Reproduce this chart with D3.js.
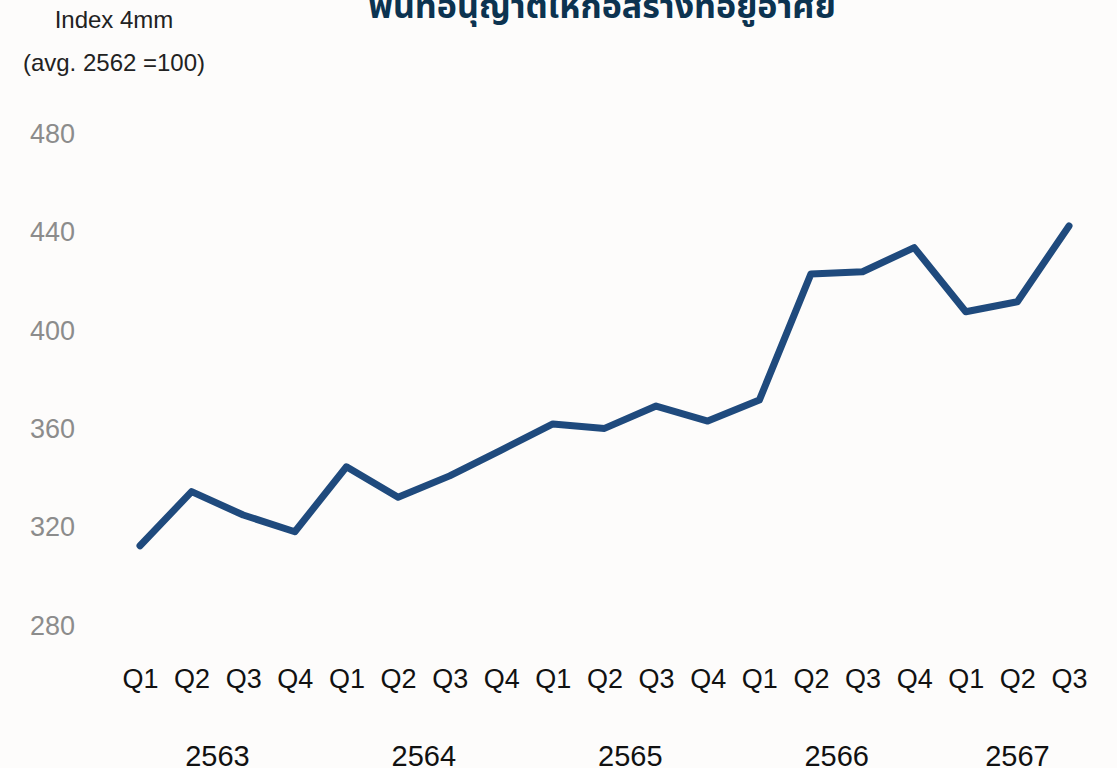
<!DOCTYPE html>
<html>
<head>
<meta charset="utf-8">
<script src="https://cdn.jsdelivr.net/npm/d3@7"></script>
<style>
  html, body { margin: 0; padding: 0; background: #fdfcfb; }
  svg { display: block; }
  text { font-family: "Liberation Sans", Arial, sans-serif; }
</style>
</head>
<body>
<svg id="chart" width="1117" height="768"></svg>
<script>
// data
var quarters = ["Q1", "Q2", "Q3", "Q4", "Q1", "Q2", "Q3", "Q4", "Q1", "Q2", "Q3", "Q4",
                "Q1", "Q2", "Q3", "Q4", "Q1", "Q2", "Q3"];
var years = ["2563", "2564", "2565", "2566", "2567"];
var yearSpan = [4, 4, 4, 4, 3];
var values = [312.5, 334.5, 325, 318.2, 344.6, 332.2, 340.9, 351.4, 362, 360.2, 369.3, 363.2,
              371.7, 423, 423.9, 433.7, 407.6, 411.7, 442.5];
var yTicks = [280, 320, 360, 400, 440, 480];

var svg = d3.select("#chart");

var x = d3.scalePoint()
  .domain(d3.range(values.length))
  .range([140, 1069]);

var y = d3.scaleLinear()
  .domain([280, 480])
  .range([625.7, 133.7]);

// title (top is cut off in the original)
svg.append("text")
  .attr("x", 602)
  .attr("y", 18)
  .attr("text-anchor", "middle")
  .attr("fill", "#0c3350")
  .style("font-family", "'Noto Sans Thai', 'Noto Sans', 'DejaVu Sans', sans-serif")
  .style("font-weight", "bold")
  .style("font-size", "34px")
  .text("พื้นที่อนุญาตให้ก่อสร้างที่อยู่อาศัย");

// y axis title
svg.append("text")
  .attr("x", 114).attr("y", 28)
  .attr("text-anchor", "middle")
  .attr("fill", "#222")
  .style("font-size", "24px")
  .text("Index 4mm");
svg.append("text")
  .attr("x", 114).attr("y", 71)
  .attr("text-anchor", "middle")
  .attr("fill", "#222")
  .style("font-size", "24px")
  .text("(avg. 2562 =100)");

// y axis, labels only
var yAxis = svg.append("g")
  .attr("transform", "translate(81,0)")
  .call(d3.axisLeft(y).tickValues(yTicks).tickSize(0).tickPadding(6));
yAxis.select(".domain").remove();
yAxis.selectAll("text")
  .attr("fill", "#8c8c8c")
  .style("font-family", "'Liberation Sans', Arial, sans-serif")
  .style("font-size", "27px");

// x axis: quarters
var xAxis = svg.append("g")
  .attr("transform", "translate(0,665)")
  .call(d3.axisBottom(x).tickFormat(function (d) { return quarters[d]; }).tickSize(0).tickPadding(4));
xAxis.select(".domain").remove();
xAxis.selectAll("text")
  .attr("fill", "#111")
  .style("font-family", "'Liberation Sans', Arial, sans-serif")
  .style("font-size", "27px");

// year labels centred under their quarters
var start = 0;
years.forEach(function (yr, i) {
  var first = x(start), last = x(start + yearSpan[i] - 1);
  svg.append("text")
    .attr("x", (first + last) / 2)
    .attr("y", 766)
    .attr("text-anchor", "middle")
    .attr("fill", "#111")
    .style("font-size", "29px")
    .text(yr);
  start += yearSpan[i];
});

// the line
var line = d3.line()
  .x(function (d, i) { return x(i); })
  .y(function (d) { return y(d); });

svg.append("path")
  .datum(values)
  .attr("d", line)
  .attr("fill", "none")
  .attr("stroke", "#1f4a7d")
  .attr("stroke-width", 7)
  .attr("stroke-linejoin", "round")
  .attr("stroke-linecap", "round");
</script>
</body>
</html>
